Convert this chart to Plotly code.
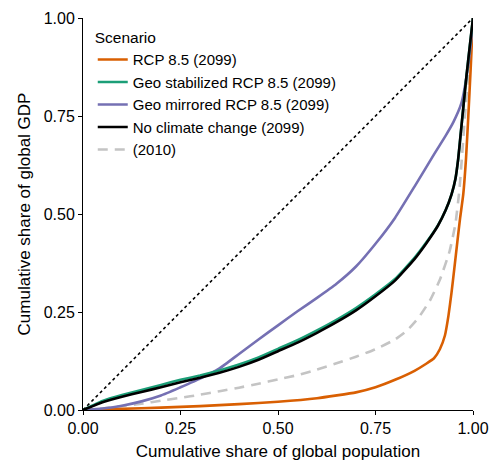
import plotly.graph_objects as go

# Lorenz curves: cumulative share of population (x) vs cumulative share of GDP (y)
rcp_x = [0, 0.1, 0.2, 0.3, 0.4, 0.5, 0.6, 0.7, 0.75, 0.8, 0.85, 0.88, 0.9, 0.915, 0.928, 0.937, 0.945, 0.952, 0.96, 0.967, 0.975, 0.982, 0.988, 0.994, 1.0]
rcp_y = [0, 0.003, 0.006, 0.01, 0.015, 0.021, 0.03, 0.045, 0.058, 0.077, 0.1, 0.118, 0.132, 0.155, 0.19, 0.24, 0.3, 0.36, 0.43, 0.49, 0.55, 0.64, 0.75, 0.87, 1.0]

geostab_x = [0, 0.05, 0.1, 0.15, 0.2, 0.25, 0.3, 0.35, 0.4, 0.45, 0.5, 0.55, 0.6, 0.65, 0.7, 0.75, 0.8, 0.85, 0.88, 0.91, 0.93, 0.945, 0.955, 0.962, 0.968, 0.975, 0.983, 0.992, 1.0]
geostab_y = [0, 0.023, 0.038, 0.051, 0.064, 0.077, 0.088, 0.101, 0.116, 0.134, 0.156, 0.178, 0.203, 0.23, 0.26, 0.295, 0.334, 0.388, 0.427, 0.471, 0.51, 0.55, 0.59, 0.64, 0.70, 0.77, 0.85, 0.93, 1.0]

geomir_x = [0, 0.05, 0.1, 0.15, 0.2, 0.25, 0.3, 0.35, 0.4, 0.45, 0.5, 0.55, 0.6, 0.65, 0.7, 0.75, 0.8, 0.85, 0.9, 0.93, 0.95, 0.97, 0.985, 0.995, 1.0]
geomir_y = [0, 0.004, 0.011, 0.022, 0.037, 0.058, 0.08, 0.106, 0.143, 0.18, 0.216, 0.252, 0.286, 0.322, 0.366, 0.424, 0.49, 0.57, 0.652, 0.70, 0.735, 0.782, 0.86, 0.94, 1.0]

nocc_x = [0, 0.05, 0.1, 0.15, 0.2, 0.25, 0.3, 0.35, 0.4, 0.45, 0.5, 0.55, 0.6, 0.65, 0.7, 0.75, 0.8, 0.85, 0.88, 0.91, 0.93, 0.945, 0.955, 0.962, 0.968, 0.975, 0.983, 0.992, 1.0]
nocc_y = [0, 0.02, 0.034, 0.046, 0.058, 0.071, 0.082, 0.095, 0.11, 0.128, 0.15, 0.172, 0.197, 0.224, 0.254, 0.29, 0.33, 0.385, 0.425, 0.47, 0.51, 0.55, 0.59, 0.64, 0.70, 0.77, 0.85, 0.93, 1.0]

y2010_x = [0, 0.05, 0.1, 0.15, 0.2, 0.25, 0.3, 0.35, 0.4, 0.45, 0.5, 0.55, 0.6, 0.65, 0.7, 0.75, 0.8, 0.83, 0.86, 0.89, 0.915, 0.94, 0.955, 0.965, 0.972, 0.98, 0.988, 0.995, 1.0]
y2010_y = [0, 0.004, 0.01, 0.016, 0.024, 0.031, 0.039, 0.048, 0.057, 0.067, 0.078, 0.089, 0.103, 0.119, 0.136, 0.155, 0.18, 0.202, 0.235, 0.28, 0.332, 0.405, 0.475, 0.56, 0.65, 0.76, 0.855, 0.94, 1.0]

equal_x = [0, 1]
equal_y = [0, 1]

names = ["RCP 8.5 (2099)", "Geo stabilized RCP 8.5 (2099)", "Geo mirrored RCP 8.5 (2099)",
         "No climate change (2099)", "(2010)"]
colors = ["#D95F02", "#1B9E77", "#7570B3", "#000000", "#C4C4C4"]

tick_vals = [0, 0.25, 0.5, 0.75, 1.0]
tick_text = ["0.00", "0.25", "0.50", "0.75", "1.00"]

FONT = "Liberation Sans, Arial, Helvetica, sans-serif"
LW = 2.6

def line(color, dash="solid"):
    return dict(color=color, width=LW, dash=dash, shape="spline", smoothing=0.4)

fig = go.Figure()
fig.add_trace(go.Scatter(x=equal_x, y=equal_y, mode="lines", showlegend=False,
                         line=dict(color="black", width=1.6, dash="dot"), hoverinfo="skip"))
fig.add_trace(go.Scatter(x=y2010_x, y=y2010_y, mode="lines", name=names[4], legendrank=5,
                         line=line(colors[4], "10px,7px")))
fig.add_trace(go.Scatter(x=rcp_x, y=rcp_y, mode="lines", name=names[0], legendrank=1,
                         line=line(colors[0])))
fig.add_trace(go.Scatter(x=geomir_x, y=geomir_y, mode="lines", name=names[2], legendrank=3,
                         line=line(colors[2])))
fig.add_trace(go.Scatter(x=geostab_x, y=geostab_y, mode="lines", name=names[1], legendrank=2,
                         line=line(colors[1])))
fig.add_trace(go.Scatter(x=nocc_x, y=nocc_y, mode="lines", name=names[3], legendrank=4,
                         line=line(colors[3])))

axis_common = dict(range=[0, 1], tickvals=tick_vals, ticktext=tick_text, automargin=False,
                   showgrid=False, zeroline=False, showline=True, linecolor="black", linewidth=1,
                   ticks="outside", ticklen=4, tickcolor="black", tickwidth=1,
                   tickfont=dict(family=FONT, size=16, color="black"))

fig.update_layout(
    width=493, height=464,
    margin=dict(l=83, r=20, t=18, b=54),
    paper_bgcolor="white", plot_bgcolor="white",
    font=dict(family=FONT, color="black"),
    xaxis=dict(**axis_common, title=dict(text="Cumulative share of global population",
                                         font=dict(family=FONT, size=17), standoff=8)),
    yaxis=dict(**axis_common, title=dict(text="Cumulative share of global GDP",
                                         font=dict(family=FONT, size=17), standoff=8)),
    legend=dict(x=0.025, y=0.987, xanchor="left", yanchor="top",
                bgcolor="rgba(0,0,0,0)", borderwidth=0,
                font=dict(family=FONT, size=15, color="black"),
                title=dict(text="Scenario", font=dict(family=FONT, size=15.5)),
                tracegroupgap=0),
)

fig.write_html("out.html")
